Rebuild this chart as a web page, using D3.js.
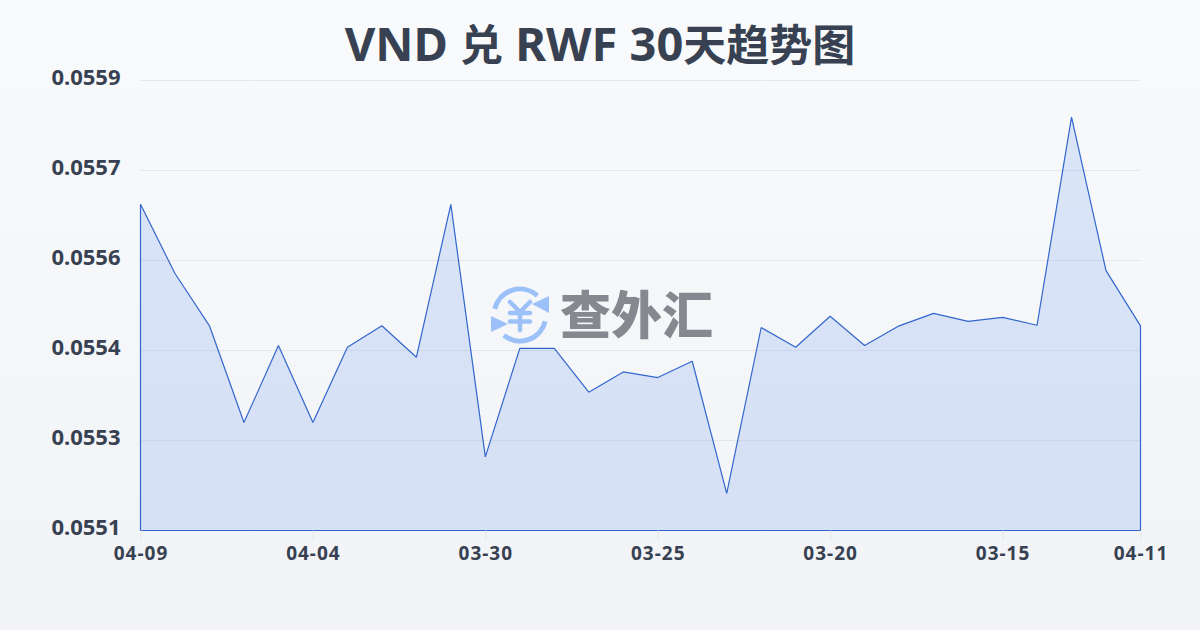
<!DOCTYPE html>
<html lang="zh">
<head>
<meta charset="utf-8">
<script src="https://cdn.jsdelivr.net/npm/d3@7/dist/d3.min.js"></script>
<style>
html,body{margin:0;padding:0;width:1200px;height:630px;overflow:hidden}
svg{display:block}
text{font-family:"Noto Sans","Noto Sans CJK SC",sans-serif}
</style>
</head>
<body>
<script>
const titleParts = ["VND ","兑"," RWF 30","天趋势图"];
const watermarkText = "查外汇";
const dates = ["04-09","04-08","04-07","04-06","04-05","04-04","04-03","04-02","04-01","03-31",
  "03-30","03-29","03-28","03-27","03-26","03-25","03-24","03-23","03-22","03-21",
  "03-20","03-19","03-18","03-17","03-16","03-15","03-14","03-13","03-12","04-11"];
const rates = [0.055679,0.055556,0.055463,0.055291,0.055428,0.055291,0.055425,0.055463,0.055407,0.055679,
  0.055230,0.055423,0.055423,0.055345,0.055381,0.055371,0.055400,0.055165,0.055460,0.055425,
  0.055480,0.055428,0.055463,0.055485,0.055471,0.055478,0.055464,0.055834,0.055561,0.055463];
const yTicks = [0.0551,0.05526,0.05542,0.05558,0.05574,0.0559];
const xTicks = ["04-09","04-04","03-30","03-25","03-20","03-15","04-11"];

const W = 1200, H = 630;
const plotLeft = 140.5, plotRight = 1140.5, plotTop = 80, plotBottom = 530;
const textColor = "#374151";

const svg = d3.select("body").append("svg").attr("width",W).attr("height",H).attr("viewBox",`0 0 ${W} ${H}`);
const defs = svg.append("defs");
const bg = defs.append("linearGradient").attr("id","bg").attr("x1",0).attr("y1",0).attr("x2",0).attr("y2",1);
bg.append("stop").attr("offset","0%").attr("stop-color","#f8fafc");
bg.append("stop").attr("offset","100%").attr("stop-color","#f1f3f6");
svg.append("rect").attr("width",W).attr("height",H).attr("fill","url(#bg)");

const x = d3.scalePoint().domain(dates).range([plotLeft,plotRight]);
const y = d3.scaleLinear().domain([yTicks[0],yTicks[yTicks.length-1]]).range([plotBottom,plotTop]);

// grid
svg.append("g").selectAll("line").data(yTicks.slice(1)).join("line")
  .attr("x1",plotLeft).attr("x2",plotRight)
  .attr("y1",d=>y(d)+0.5).attr("y2",d=>y(d)+0.5)
  .attr("stroke","#e5e7eb").attr("stroke-width",1);

// area
const area = d3.area().x((d,i)=>x(dates[i])).y0(plotBottom+0.5).y1(d=>y(d));
svg.append("path").datum(rates).attr("d",area)
  .attr("fill","#3b74e8").attr("fill-opacity",0.15)
  .attr("stroke","#3366cc").attr("stroke-width",1.2).attr("stroke-linejoin","bevel");

// axes
const yAxis = svg.append("g").attr("transform",`translate(${plotLeft},0)`)
  .call(d3.axisLeft(y).tickValues(yTicks).tickFormat(d3.format(".4f")).tickSize(0).tickPadding(20));
yAxis.select(".domain").remove();
yAxis.selectAll("text").attr("font-size",22).attr("font-weight",700).attr("fill",textColor).attr("dy","0.2em");

const xAxis = svg.append("g").attr("transform",`translate(0,${plotBottom+0.5})`)
  .call(d3.axisBottom(x).tickValues(xTicks).tickSize(10).tickPadding(6));
xAxis.select(".domain").remove();
xAxis.selectAll("line").attr("stroke","#e5e7eb").attr("stroke-width",1);
xAxis.selectAll("text").attr("font-size",19).attr("font-weight",700).attr("fill",textColor).attr("letter-spacing",1);

// title
const title = svg.append("text").attr("x",600).attr("y",61).attr("text-anchor","middle")
  .attr("font-weight",700).attr("fill","#374151").attr("xml:space","preserve").style("white-space","pre");
title.selectAll("tspan").data(titleParts).join("tspan")
  .attr("font-size",(d,i)=>i%2===0?47:43).text(d=>d);

// watermark
const logo = svg.append("g").attr("transform","translate(520,315)").attr("fill","none").attr("stroke","#9cc0f8");
const arc = d3.arc().innerRadius(26).outerRadius(26);
logo.append("path").attr("d",arc({startAngle:-1.33,endAngle:0.73})).attr("stroke-width",5).attr("stroke-linecap","round");
logo.append("path").attr("d",arc({startAngle:1.82,endAngle:3.81})).attr("stroke-width",5).attr("stroke-linecap","round");
logo.append("path").attr("d","M29,-19 L29,-2 L12,-11 Z").attr("fill","#9cc0f8").attr("stroke","none");
logo.append("path").attr("d","M-29,1 L-29,17 L-12,9 Z").attr("fill","#9cc0f8").attr("stroke","none");
logo.append("path").attr("d","M-10,-13 L0,-3 L10,-13 M-10,-2 H10 M-10,6.5 H10 M0,-3 V15").attr("stroke-width",4.5).attr("stroke-linecap","round").attr("stroke-linejoin","round");
svg.append("text").attr("x",560).attr("y",334).attr("font-size",51).attr("font-weight",900)
  .attr("fill","#85888f").style("font-family",'"Noto Sans CJK SC",sans-serif').text(watermarkText);
</script>
</body>
</html>
